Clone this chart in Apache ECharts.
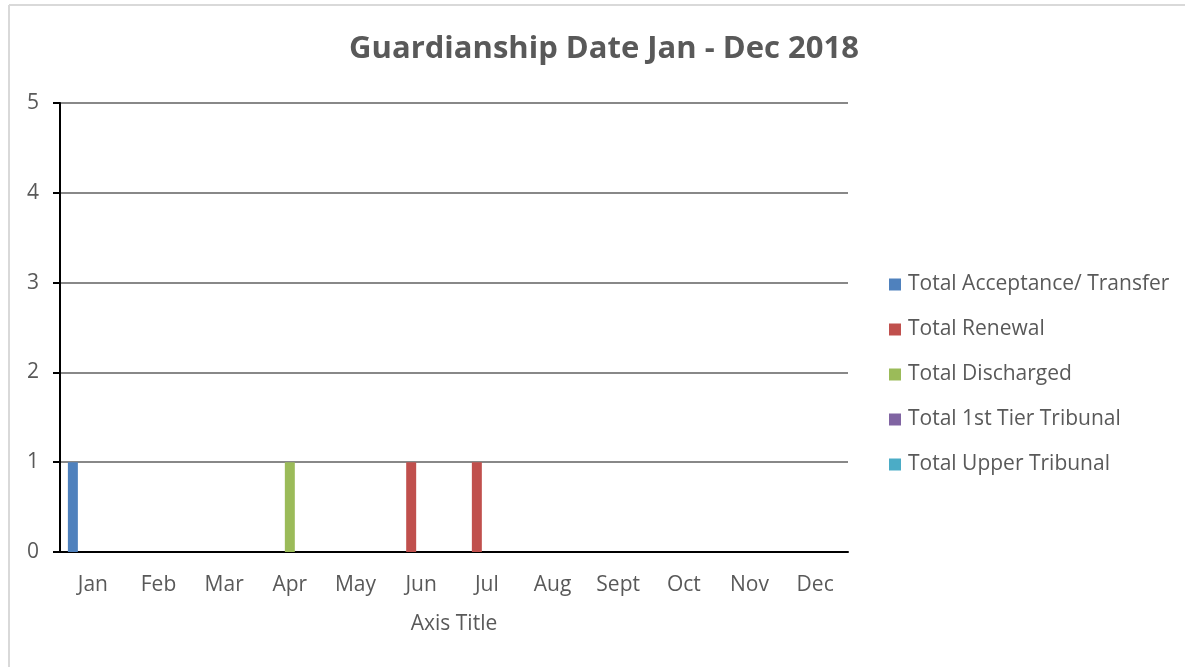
<!DOCTYPE html>
<html lang="en">
<head>
    <meta charset="UTF-8">
    <title>Guardianship Date Jan - Dec 2018</title>
    <script type="text/javascript" src="https://cdn.jsdelivr.net/npm/echarts@6/dist/echarts.min.js"></script>
    <style>
        html, body { margin: 0; padding: 0; background: #fff; }
        #chart { width: 1185px; height: 667px; }
    </style>
</head>
<body>
<div id="chart"></div>
<script type="text/javascript">
    var months = ['Jan', 'Feb', 'Mar', 'Apr', 'May', 'Jun', 'Jul', 'Aug', 'Sept', 'Oct', 'Nov', 'Dec'];
    var seriesNames = ['Total Acceptance/ Transfer', 'Total Renewal', 'Total Discharged', 'Total 1st Tier Tribunal', 'Total Upper Tribunal'];
    var acceptance = [1, 0, 0, 0, 0, 0, 0, 0, 0, 0, 0, 0];
    var renewal = [0, 0, 0, 0, 0, 1, 1, 0, 0, 0, 0, 0];
    var discharged = [0, 0, 0, 1, 0, 0, 0, 0, 0, 0, 0, 0];
    var firstTier = [0, 0, 0, 0, 0, 0, 0, 0, 0, 0, 0, 0];
    var upperTribunal = [0, 0, 0, 0, 0, 0, 0, 0, 0, 0, 0, 0];
    var colors = ['#4f81bd', '#c0504d', '#9bbb59', '#8064a2', '#4bacc6'];

    var font = '"Open Sans", sans-serif';
    var allData = [acceptance, renewal, discharged, firstTier, upperTribunal];
    var series = [];
    for (var i = 0; i < seriesNames.length; i++) {
        series.push({
            name: seriesNames[i],
            type: 'bar',
            data: allData[i],
            barGap: '0%',
            barCategoryGap: '24%',
            itemStyle: { color: colors[i] }
        });
    }

    var mychart = echarts.init(document.getElementById('chart'));
    var option = {
        animation: false,
        color: colors,
        title: {
            text: 'Guardianship Date Jan - Dec 2018',
            left: 599,
            textAlign: 'center',
            top: 29,
            textStyle: { color: '#595959', fontSize: 31, fontWeight: 'bold', fontFamily: font }
        },
        legend: {
            orient: 'vertical',
            left: 889,
            top: 274,
            padding: 0,
            itemWidth: 12,
            itemHeight: 12,
            itemGap: 24,
            icon: 'rect',
            textStyle: { color: '#595959', fontSize: 21, fontFamily: font, padding: [0, 0, 0, 2] },
            data: seriesNames
        },
        grid: { left: 60, right: 337, top: 103, bottom: 115 },
        xAxis: {
            type: 'category',
            data: months,
            name: 'Axis Title',
            nameLocation: 'middle',
            nameGap: 62,
            nameTextStyle: { color: '#595959', fontSize: 21, fontFamily: font },
            axisLine: { lineStyle: { color: '#000', width: 2 } },
            axisTick: { show: false },
            axisLabel: { color: '#595959', fontSize: 21, fontFamily: font, margin: 23 }
        },
        yAxis: {
            type: 'value',
            min: 0,
            max: 5,
            interval: 1,
            axisLine: { show: true, lineStyle: { color: '#000', width: 2 } },
            axisTick: { show: true, length: 7, lineStyle: { color: '#000', width: 2 } },
            axisLabel: { color: '#595959', fontSize: 21, fontFamily: font, margin: 21 },
            splitLine: { lineStyle: { color: '#888', width: 2 } }
        },
        graphic: [
            { type: 'line', shape: { x1: 9, y1: 5, x2: 1185, y2: 5 }, style: { stroke: '#d9d9d9', lineWidth: 2 } },
            { type: 'line', shape: { x1: 9, y1: 5, x2: 9, y2: 667 }, style: { stroke: '#d9d9d9', lineWidth: 2 } }
        ],
        series: series
    };
    mychart.setOption(option);
</script>
</body>
</html>
